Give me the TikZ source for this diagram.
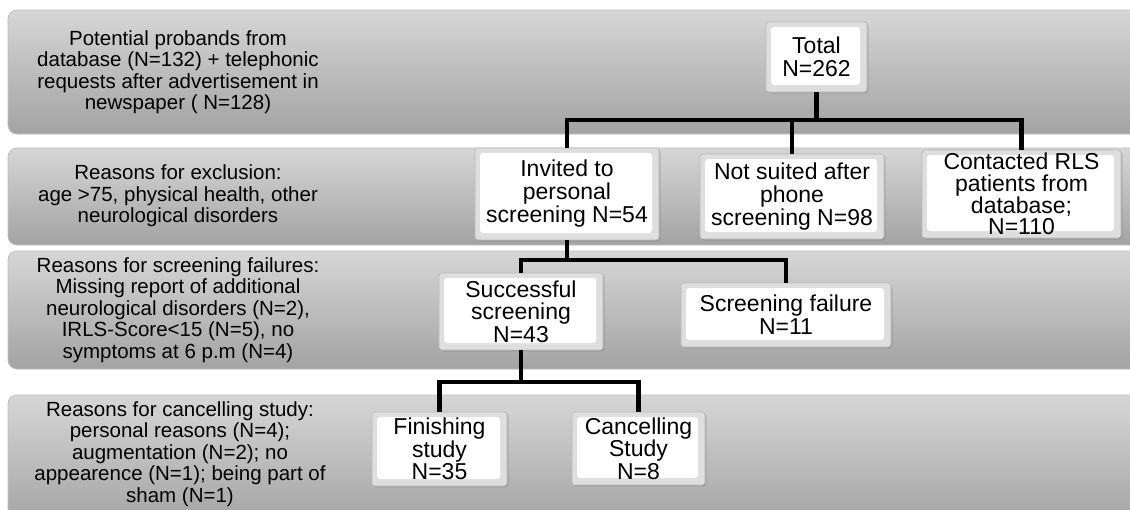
\documentclass[tikz,border=0pt]{standalone}
\usepackage{fontspec}
\setmainfont{Liberation Sans}
\usetikzlibrary{shadows}
\definecolor{bandtop}{RGB}{214,214,214}
\definecolor{bandbot}{RGB}{163,163,163}
\definecolor{bandedge}{RGB}{190,190,190}
\definecolor{bevel}{RGB}{222,222,222}
\newcommand\lftfont{\fontsize{20.5}{21.5}\selectfont}
\newcommand\bxfont{\fontsize{23}{23}\selectfont}
\tikzset{
  band/.style={draw=bandedge, line width=0.8pt, rounded corners=9pt, top color=bandtop, bottom color=bandbot},
  lefttext/.style={align=center, font=\lftfont, inner sep=0pt},
  box/.style={draw=gray!55, line width=0.6pt, rounded corners=3pt, fill=bevel, inner sep=0pt,
    align=center, font=\bxfont,
    drop shadow={shadow xshift=1.5pt, shadow yshift=-1.5pt, opacity=0.35},
    path picture={\fill[white] ([xshift=5pt,yshift=-5pt]path picture bounding box.north west) rectangle ([xshift=-7pt,yshift=7pt]path picture bounding box.south east);}},
  conn/.style={line width=4.2pt, black}
}
\begin{document}
\begin{tikzpicture}[x=1pt,y=-1pt]
\useasboundingbox (0,0) rectangle (1130,509);
\fill[white] (0,0) rectangle (1130,509);
% bands
\path[band] (8,10) rectangle (1145,134);
\path[band] (8,148) rectangle (1145,245);
\path[band] (8,251) rectangle (1145,369);
\path[band] (8,395) rectangle (1145,525);
% left texts
\node[lefttext] (t1) at (178,72) {Potential probands from\\database (N=132) + telephonic\\requests after advertisement in\\newspaper ( N=128)};
\node[lefttext] (t2) at (178,196) {Reasons for exclusion:\\age >75, physical health, other\\neurological disorders};
\node[lefttext] (t3) at (178,310) {Reasons for screening failures:\\Missing report of additional\\neurological disorders (N=2),\\IRLS-Score<15 (N=5), no\\symptoms at 6 p.m (N=4)};
\node[lefttext] (t4) at (180,454) {Reasons for cancelling study:\\personal reasons (N=4);\\augmentation (N=2); no\\appearence (N=1); being part of\\sham (N=1)};
% boxes
\node[box, minimum width=101pt, minimum height=70pt] (total) at (816.5,57) {Total\\N=262};
\node[box, minimum width=184pt, minimum height=92pt] (invited) at (567,194) {Invited to\\personal\\screening N=54};
\node[box, minimum width=184pt, minimum height=85pt] (notsuited) at (792,196.5) {Not suited after\\phone\\screening N=98};
\node[box, minimum width=199pt, minimum height=88pt, font=\fontsize{23}{21.7}\selectfont] (contacted) at (1021.5,194) {Contacted RLS\\patients from\\database;\\N=110};
\node[box, minimum width=164pt, minimum height=77pt, font=\fontsize{23}{22.5}\selectfont] (success) at (521,311.5) {Successful\\screening\\N=43};
\node[box, minimum width=210pt, minimum height=64pt] (scrfail) at (786,315) {Screening failure\\N=11};
\node[box, minimum width=135pt, minimum height=74pt, font=\fontsize{23}{22.5}\selectfont] (finish) at (439.5,449) {Finishing\\study\\N=35};
\node[box, minimum width=133pt, minimum height=73pt, font=\fontsize{23}{22.5}\selectfont] (cancel) at (638.5,448.5) {Cancelling\\Study\\N=8};
% connectors
\coordinate (j1) at (816.5,120);
\coordinate (j2) at (567,260);
\coordinate (j3) at (521,382);
\draw[conn] (total.south) -- (j1) -| (invited.north);
\draw[conn] (j1) -| (notsuited.north);
\draw[conn] (j1) -| (contacted.north);
\draw[conn] (invited.south) -- (j2) -| (success.north);
\draw[conn] (j2) -| (scrfail.north);
\draw[conn] (success.south) -- (j3) -| (finish.north);
\draw[conn] (j3) -| (cancel.north);
\end{tikzpicture}
\end{document}
